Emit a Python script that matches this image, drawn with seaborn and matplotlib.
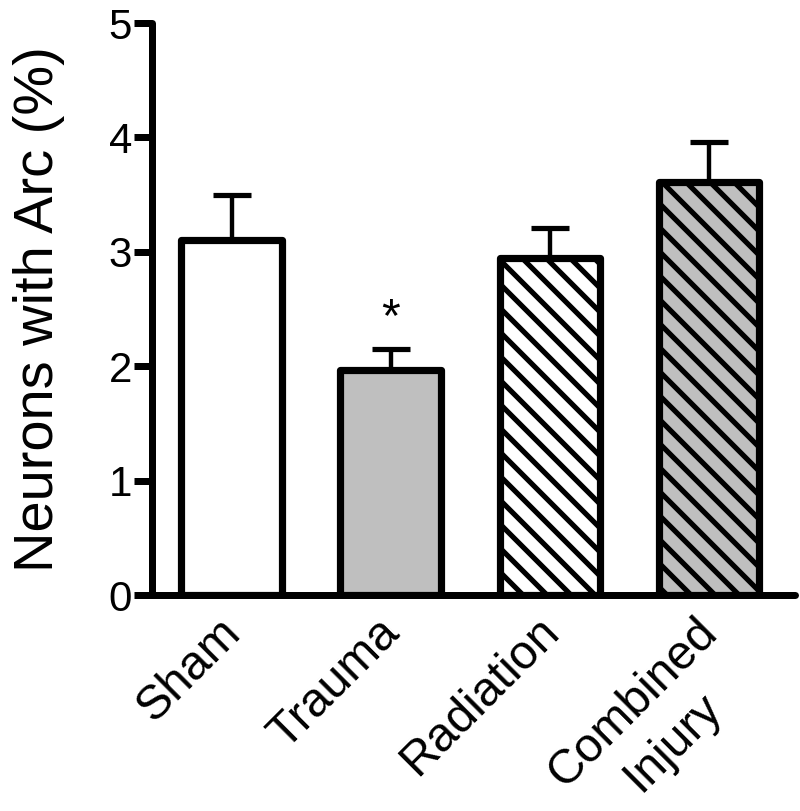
import matplotlib
matplotlib.use("Agg")
import matplotlib.pyplot as plt
import matplotlib.transforms as mtransforms
import pandas as pd
import seaborn as sns

groups = ["Sham", "Trauma", "Radiation", "Combined\nInjury"]
arc_mean = [3.10, 1.97, 2.95, 3.61]
arc_sem = [0.40, 0.18, 0.26, 0.35]
bar_colors = ["#ffffff", "#bfbfbf", "#ffffff", "#bfbfbf"]
bar_hatches = ["", "", "\\\\", "\\\\"]
y_ticks = [0, 1, 2, 3, 4, 5]

sns.set_style("ticks")
plt.rcParams["font.family"] = ["Liberation Sans", "DejaVu Sans"]
plt.rcParams["hatch.linewidth"] = 2.6
plt.rcParams["hatch.color"] = "black"
for key in ["text.color", "axes.labelcolor", "xtick.color", "ytick.color", "axes.edgecolor"]:
    plt.rcParams[key] = "black"

df = pd.DataFrame({"group": groups, "arc": arc_mean})

fig = plt.figure(figsize=(800 / 144, 811 / 144), dpi=144)
ax = fig.add_axes([0.19, 0.2663, 0.804, 0.7053])

sns.barplot(data=df, x="group", y="arc", hue="group", palette=bar_colors,
            width=0.63, edgecolor="black", linewidth=3.6, legend=False, ax=ax)
for patch, h in zip(ax.patches, bar_hatches):
    patch.set_hatch(h)
    patch.set_joinstyle("round")

ax.errorbar(range(len(groups)), arc_mean, yerr=[[0] * len(groups), arc_sem],
            fmt="none", ecolor="black", elinewidth=2.2, capsize=9.5, capthick=2.6, zorder=1)

ax.text(1, 2.42, "*", ha="center", va="center", fontsize=24)

ax.set_ylim(0, 5)
ax.set_xlim(-0.5, 3.544)
ax.set_yticks(y_ticks)
ax.set_xlabel("")
ax.set_ylabel("Neurons with Arc (%)", fontsize=28, labelpad=22)
ax.tick_params(axis="y", length=9, width=3.5, labelsize=21, pad=1)
ax.tick_params(axis="x", length=0, labelsize=24, pad=7)
shift = mtransforms.ScaledTranslation(-7 / 72, 0, fig.dpi_scale_trans)
for label in ax.get_xticklabels():
    label.set_rotation(45)
    label.set_ha("right")
    label.set_va("top")
    label.set_rotation_mode("anchor")
    label.set_multialignment("center")
    label.set_linespacing(1.35)
    label.set_transform(label.get_transform() + shift)
sns.despine(ax=ax)
for side in ["left", "bottom"]:
    ax.spines[side].set_linewidth(3.5)
    ax.spines[side].set_capstyle("round")

fig.savefig("out.png", dpi=144)
